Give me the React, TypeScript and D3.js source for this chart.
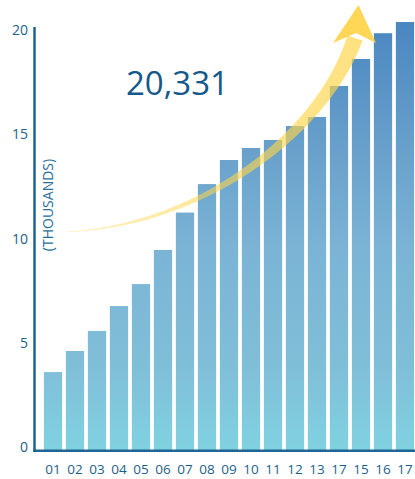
import React from "react";
import * as d3 from "d3";

const categories = ["01","02","03","04","05","06","07","08","09","10","11","12","13","17","15","16","17"];
const values = [3.74, 4.74, 5.69, 6.87, 7.91, 9.53, 11.3, 12.65, 13.79, 14.36, 14.74, 15.4, 15.83, 17.3, 18.58, 19.8, 20.331];
const yTicks = [0, 5, 10, 15, 20];
const headline = "20,331";
const unitLabel = "(THOUSANDS)";

const W = 415, H = 479;

export default function App() {
  const idx = categories.map((_, i) => i);
  const x = d3.scaleBand<number>().domain(idx).range([42, 416]).paddingInner(0.17).paddingOuter(0.085);
  const y = d3.scaleLinear().domain([0, 20]).range([451, 29]);
  const yLabel = d3.scaleLinear().domain([0, 20]).range([447, 30]);

  // arrow path along cubic bezier
  const P = [[66, 232], [200, 226], [322, 135], [355, 38]];
  const bez = (t: number) => {
    const u = 1 - t;
    const a = u * u * u, b = 3 * u * u * t, c = 3 * u * t * t, d = t * t * t;
    return [a * P[0][0] + b * P[1][0] + c * P[2][0] + d * P[3][0], a * P[0][1] + b * P[1][1] + c * P[2][1] + d * P[3][1]];
  };
  const N = 60;
  const left: number[][] = [], right: number[][] = [];
  for (let i = 0; i <= N; i++) {
    const t = i / N;
    const p = bez(t);
    const q = bez(Math.min(1, t + 0.001)), r = bez(Math.max(0, t - 0.001));
    let dx = q[0] - r[0], dy = q[1] - r[1];
    const len = Math.hypot(dx, dy) || 1;
    dx /= len; dy /= len;
    const w = 0.3 + 7.7 * Math.pow(t, 1.2);
    left.push([p[0] - dy * w, p[1] + dx * w]);
    right.push([p[0] + dy * w, p[1] - dx * w]);
  }
  const shaft = d3.line()([...left, ...right.reverse()]) + "Z";
  const head = d3.line()([[358.5, 5], [376, 43], [356, 33], [333, 43]]) + "Z";

  const tickColor = "#1d5f8c";
  const font = "'Open Sans', sans-serif";

  return (
    <svg width={W} height={H} style={{ position: "absolute", left: 0, top: 0 }} fontFamily={font}>
      <defs>
        <linearGradient id="barGrad" gradientUnits="userSpaceOnUse" x1="0" y1={y(0)} x2="0" y2={y(20.331)}>
          <stop offset="0" stopColor="#80d2e1" />
          <stop offset="0.19" stopColor="#80bfd8" />
          <stop offset="0.47" stopColor="#7bb4d5" />
          <stop offset="0.71" stopColor="#68a0cb" />
          <stop offset="1" stopColor="#4a86c0" />
        </linearGradient>
        <linearGradient id="arrowGrad" gradientUnits="userSpaceOnUse" x1="66" y1="232" x2="355" y2="38">
          <stop offset="0" stopColor="#ffd54a" stopOpacity="0.35" />
          <stop offset="0.5" stopColor="#ffd54a" stopOpacity="0.6" />
          <stop offset="1" stopColor="#ffd54a" stopOpacity="0.7" />
        </linearGradient>
      </defs>
      {values.map((v, i) => (
        <rect key={i} x={x(i)} y={y(v)} width={x.bandwidth()} height={452 - y(v)} fill="url(#barGrad)" />
      ))}
      <line x1={34.5} x2={34.5} y1={27} y2={452} stroke="#1b6592" strokeWidth={2.5} />
      <line x1={33.5} x2={W} y1={450.8} y2={450.8} stroke="#1a6090" strokeWidth={2.6} opacity={0.95} />
      {yTicks.map((t) => (
        <text key={t} x={28} y={yLabel(t) + 5} textAnchor="end" fontSize={14} fill={tickColor}>{t}</text>
      ))}
      {categories.map((c, i) => (
        <text key={i} x={(x(i) as number) + x.bandwidth() / 2} y={474} textAnchor="middle" fontSize={13.5} fill={tickColor}>{c}</text>
      ))}
      <text transform="translate(53,205) rotate(-90)" textAnchor="middle" fontSize={14} fill="#2a6e9a">{unitLabel}</text>
      <text x={126} y={95} fontSize={33} fill="#15598a">{headline}</text>
      <path d={shaft} fill="url(#arrowGrad)" />
      <path d={head} fill="#ffd44c" opacity={0.95} />
    </svg>
  );
}
